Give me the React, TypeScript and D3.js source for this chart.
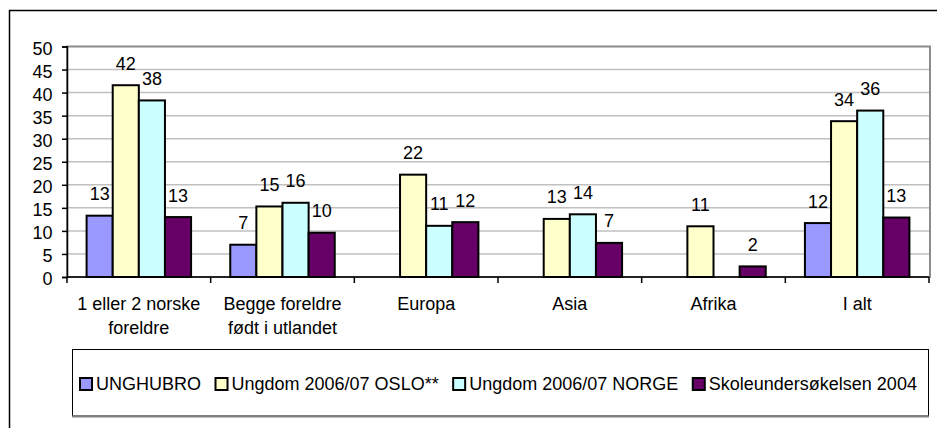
import React, { useEffect, useRef } from 'react';
import * as d3 from 'd3';

// Chart data
const categoryLines = [
  ['1 eller 2 norske', 'foreldre'],
  ['Begge foreldre', 'født i utlandet'],
  ['Europa'],
  ['Asia'],
  ['Afrika'],
  ['I alt'],
];
const seriesNames = [
  'UNGHUBRO',
  'Ungdom 2006/07 OSLO**',
  'Ungdom 2006/07 NORGE',
  'Skoleundersøkelsen 2004',
];
const unghubroValues = [13.3, 7.0, null, null, null, 11.7];
const osloValues = [41.6, 15.3, 22.2, 12.6, 11.0, 33.8];
const norgeValues = [38.3, 16.1, 11.1, 13.6, null, 36.1];
const skoleValues = [13.0, 9.6, 11.9, 7.4, 2.3, 12.9];
const seriesColors = ['#9999ff', '#ffffcc', '#ccffff', '#660066'];
const yTicks = [0, 5, 10, 15, 20, 25, 30, 35, 40, 45, 50];

const FONT = '"Liberation Sans", Arial, sans-serif';

export default function App() {
  const anchor = useRef<SVGSVGElement>(null);

  useEffect(() => {
    const seriesValues = [unghubroValues, osloValues, norgeValues, skoleValues];

    // Margin convention
    const margin = { top: 46.5, right: 8, bottom: 151, left: 67 };
    const width = 937 - margin.left - margin.right;
    const height = 428 - margin.top - margin.bottom;

    const root = d3.select(anchor.current);
    root.selectAll('*').remove();

    // Outer chart border (runs off the right and bottom edge)
    root
      .append('rect')
      .attr('x', 9.5)
      .attr('y', 10.5)
      .attr('width', 960)
      .attr('height', 440)
      .style('fill', 'none')
      .style('stroke', '#000')
      .style('stroke-width', 1.5);

    const svg = root
      .append('g')
      .attr('transform', `translate(${margin.left}, ${margin.top})`);

    // Scales
    const x0 = d3
      .scaleBand<number>()
      .domain(d3.range(categoryLines.length))
      .range([0, width]);

    const x1 = d3
      .scaleBand<number>()
      .domain(d3.range(seriesNames.length))
      .range([0, x0.bandwidth()])
      .paddingInner(0)
      .paddingOuter(0.75);

    const yScale = d3.scaleLinear().domain([0, 50]).range([height, 0]);

    // Gridlines
    svg
      .append('g')
      .selectAll('line')
      .data(yTicks.filter(t => t > 0 && t < 50))
      .enter()
      .append('line')
      .attr('x1', 0)
      .attr('x2', width)
      .attr('y1', d => yScale(d))
      .attr('y2', d => yScale(d))
      .style('stroke', '#c0c0c0')
      .style('stroke-width', 1.5);

    // Plot area border
    svg
      .append('rect')
      .attr('x', 0)
      .attr('y', 0)
      .attr('width', width + 1)
      .attr('height', height)
      .style('fill', 'none')
      .style('stroke', '#8c8c8c')
      .style('stroke-width', 2);

    // Bars
    const groups = svg
      .append('g')
      .selectAll('g')
      .data(categoryLines.map((_, i) => i))
      .enter()
      .append('g')
      .attr('transform', i => `translate(${x0(i)},0)`);

    const cells = groups
      .selectAll('.cell')
      .data(i =>
        seriesValues
          .map((vals, s) => ({ s, v: vals[i] }))
          .filter(d => d.v !== null) as { s: number; v: number }[]
      )
      .enter()
      .append('g')
      .attr('class', 'cell');

    cells
      .append('rect')
      .attr('x', d => x1(d.s) as number)
      .attr('y', d => yScale(d.v))
      .attr('width', x1.bandwidth())
      .attr('height', d => height - yScale(d.v))
      .style('fill', d => seriesColors[d.s])
      .style('stroke', '#000')
      .style('stroke-width', 2);

    // Data labels
    cells
      .append('text')
      .attr('x', d => (x1(d.s) as number) + x1.bandwidth() / 2)
      .attr('y', d => yScale(d.v) - 15.5)
      .attr('text-anchor', 'middle')
      .style('font-family', FONT)
      .style('font-size', '18px')
      .style('fill', '#000')
      .text(d => String(Math.round(d.v)));

    // Y axis
    const yAxis = d3
      .axisLeft(yScale)
      .tickValues(yTicks)
      .tickSize(5)
      .tickPadding(9.5);

    const yAxisDraw = svg.append('g').call(yAxis);
    yAxisDraw.select('.domain').style('stroke', '#000').style('stroke-width', 1.5);
    yAxisDraw.selectAll('.tick line').style('stroke', '#000').style('stroke-width', 1.5);
    yAxisDraw
      .selectAll('.tick text')
      .attr('dy', '0.43em')
      .style('font-family', FONT)
      .style('font-size', '18px')
      .style('fill', '#000');

    // X axis line and category boundary ticks
    svg
      .append('line')
      .attr('x1', 0)
      .attr('x2', width)
      .attr('y1', height)
      .attr('y2', height)
      .style('stroke', '#000')
      .style('stroke-width', 1.5);

    svg
      .append('g')
      .selectAll('line')
      .data(d3.range(categoryLines.length + 1))
      .enter()
      .append('line')
      .attr('x1', i => i * x0.step())
      .attr('x2', i => i * x0.step())
      .attr('y1', height)
      .attr('y2', height + 6)
      .style('stroke', '#000')
      .style('stroke-width', 1.5);

    // Category labels
    const catText = svg
      .append('g')
      .selectAll('text')
      .data(categoryLines)
      .enter()
      .append('text')
      .attr('x', (_, i) => (x0(i) as number) + x0.bandwidth() / 2)
      .attr('y', height + 33)
      .attr('text-anchor', 'middle')
      .style('font-family', FONT)
      .style('font-size', '18px')
      .style('fill', '#000');

    catText
      .selectAll('tspan')
      .data(d => d)
      .enter()
      .append('tspan')
      .attr('x', function () {
        return (this.parentNode as SVGTextElement).getAttribute('x');
      })
      .attr('dy', (_, j) => (j === 0 ? 0 : 24))
      .text(d => d);

    // Legend box
    const legend = root.append('g');
    legend
      .append('rect')
      .attr('x', 72.5)
      .attr('y', 349.5)
      .attr('width', 856)
      .attr('height', 66.5)
      .style('fill', '#fff')
      .style('stroke', '#000')
      .style('stroke-width', 1);
    legend
      .append('line')
      .attr('x1', 72)
      .attr('x2', 929)
      .attr('y1', 416.5)
      .attr('y2', 416.5)
      .style('stroke', '#808080')
      .style('stroke-width', 2);

    // Legend items, laid out one after another
    let cursor = 80;
    seriesNames.forEach((name, s) => {
      legend
        .append('rect')
        .attr('x', cursor)
        .attr('y', 378)
        .attr('width', 12)
        .attr('height', 12)
        .style('fill', seriesColors[s])
        .style('stroke', '#000')
        .style('stroke-width', 2);
      const label = legend
        .append('text')
        .attr('x', cursor + 16)
        .attr('y', 390)
        .style('font-family', FONT)
        .style('font-size', '18px')
        .style('fill', '#000')
        .text(name);
      const w = (label.node() as SVGTextElement).getComputedTextLength();
      cursor = cursor + 16 + w + 14.5;
    });
  }, []);

  return (
    <svg
      ref={anchor}
      width={937}
      height={428}
      style={{ position: 'absolute', left: 0, top: 0, background: '#fff' }}
    />
  );
}
